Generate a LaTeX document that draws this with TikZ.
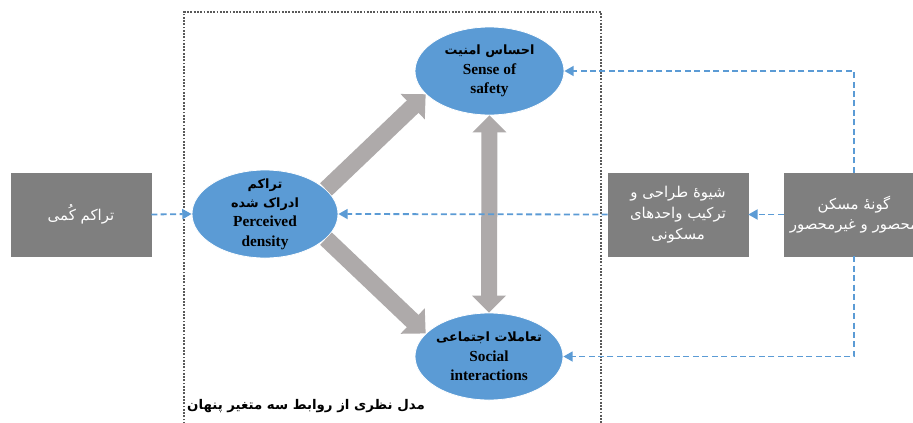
\documentclass[tikz,border=0pt]{standalone}
\usepackage{fontspec}
\setmainfont{Liberation Serif}
\newfontfamily\fa[Script=Arabic]{DejaVu Sans}
\TeXXeTstate=1
\usetikzlibrary{shapes.geometric,arrows.meta}
\definecolor{boxgray}{HTML}{7F7F7F}
\definecolor{ellblue}{HTML}{5B9BD5}
\definecolor{arrgray}{HTML}{AEAAAA}
\definecolor{dotgray}{HTML}{595959}
\newcommand\FA[1]{{\fa\beginR #1\endR}}
\newcommand\FAs[1]{{\fa\fontsize{9.6}{14.6}\selectfont\beginR #1\endR}}
\begin{document}
\begin{tikzpicture}[x=0.75pt,y=-0.75pt,
  grbox/.style={rectangle, fill=boxgray, draw=boxgray, minimum width=105pt, minimum height=62.25pt, inner sep=0pt, text=white, align=center, font=\fontsize{11.2}{15.5}\selectfont},
  ell/.style={ellipse, fill=ellblue, draw=white, line width=0.6pt, inner sep=-12pt, align=center, font=\fontsize{11.5}{14.6}\selectfont\bfseries},
  garrow/.style={draw=arrgray, line width=12.75pt, -{Triangle[length=13.5pt,width=25.5pt]}},
  vgarrow/.style={draw=arrgray, line width=12pt, {Triangle[length=12.75pt,width=24.75pt]}-{Triangle[length=12.75pt,width=24.75pt]}},
  darrow/.style={draw=ellblue, line width=1.35pt, dash pattern=on 4.5pt off 2.6pt, -{Triangle[length=7pt,width=7.5pt]}}
]
\clip (0,0) rectangle (913,422);
\fill[white] (0,0) rectangle (913,422);

% dotted frame
\draw[dotgray, line width=1.35pt, dash pattern=on 1.35pt off 1.1pt] (184,440) -- (184,12) -- (601,12) -- (601,440);

% boxes
\node[grbox] (q) at (81,214.5) {\FA{تراکم کُمی}};
\node[grbox] (mid) at (678,214.5) {\FA{شیوهٔ طراحی و}\\ \FA{ترکیب واحدهای}\\ \FA{مسکونی}};
\node[grbox] (hs) at (854,214.5) {\FA{گونهٔ مسکن}\\ \FA{محصور و غیرمحصور}};

% ellipses
\node[ell, minimum width=109.5pt, minimum height=66pt] (pd) at (265,214) {\FAs{تراکم}\\ \FAs{ادراک شده}\\ Perceived\\ density};
\node[ell, minimum width=111.75pt, minimum height=66pt] (ss) at (489.5,71) {\FAs{احساس امنیت}\\ Sense of\\ safety};
\node[ell, minimum width=111pt, minimum height=65.25pt] (si) at (489,356.5) {\FAs{تعاملات اجتماعی}\\ Social\\ interactions};

% gray arrows
\draw[garrow] (pd.22) -- (ss.200);
\draw[garrow] (pd.-22) -- (si.160);
\draw[vgarrow] (ss.south) -- (si.north);

% dashed arrows
\draw[darrow] (q.east) -- (pd.west);
\draw[darrow] (mid.west) -- (pd.east);
\draw[darrow] (hs.west) -- (mid.east);
\draw[darrow] (hs.north) |- (ss.east);
\draw[darrow] (hs.south) |- (si.east);

% caption
\node[font=\fontsize{10}{13}\selectfont\bfseries] (cap) at (306,406) {\FA{مدل نظری از روابط سه متغیر پنهان}};
\end{tikzpicture}
\end{document}
